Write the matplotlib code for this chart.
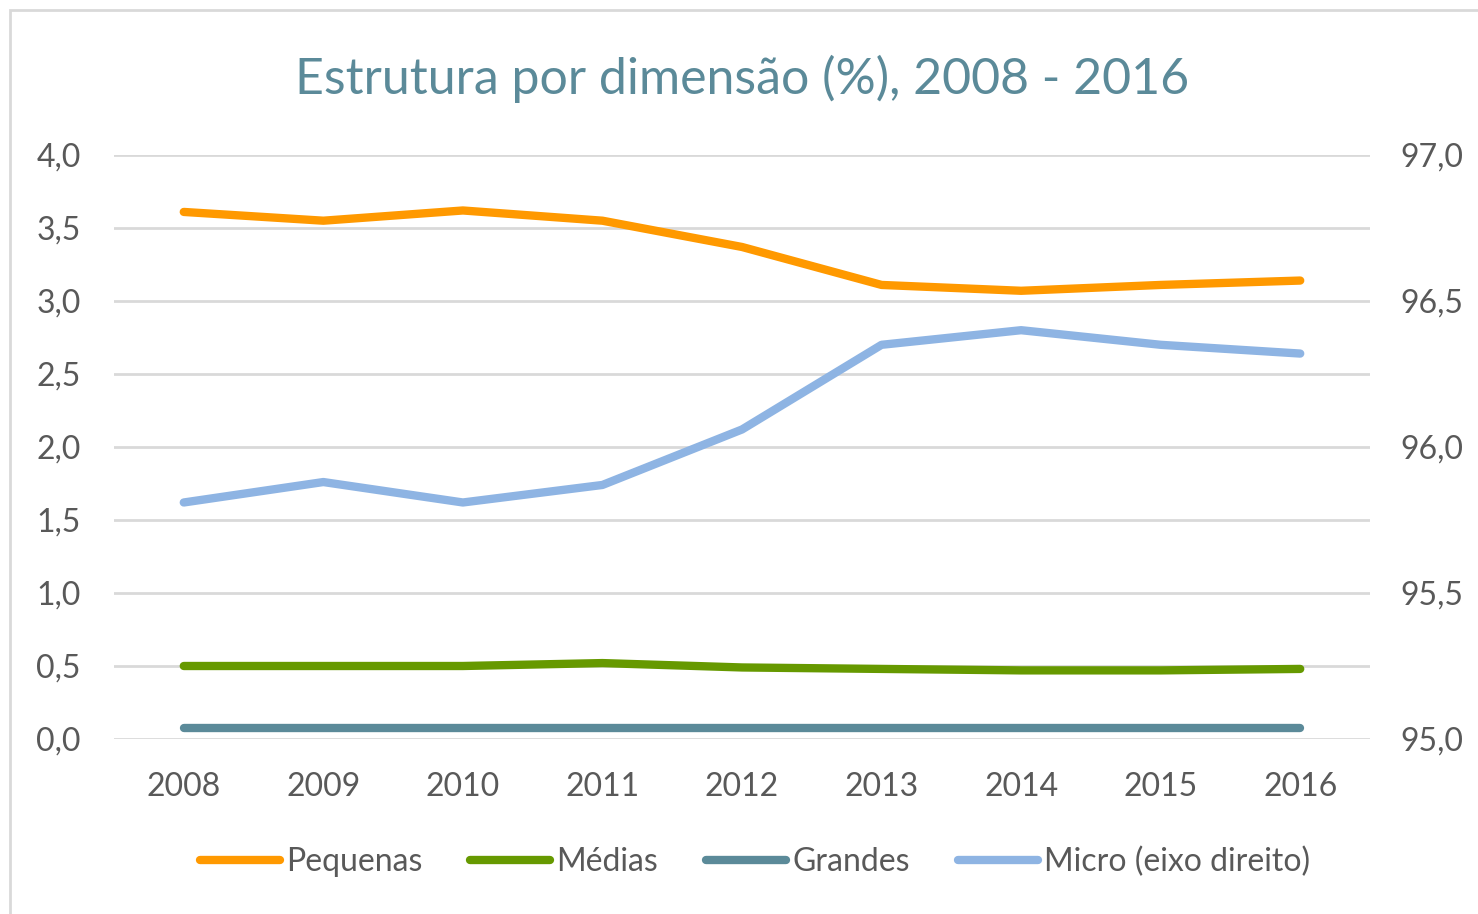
import matplotlib
matplotlib.use("Agg")
import matplotlib.pyplot as plt
from matplotlib.patches import Rectangle

years = ['2008', '2009', '2010', '2011', '2012', '2013', '2014', '2015', '2016']
pequenas = [3.61, 3.55, 3.62, 3.55, 3.37, 3.11, 3.07, 3.11, 3.14]
medias = [0.50, 0.50, 0.50, 0.52, 0.49, 0.48, 0.47, 0.47, 0.48]
grandes = [0.075, 0.075, 0.075, 0.075, 0.075, 0.075, 0.075, 0.075, 0.075]
micro = [95.81, 95.88, 95.81, 95.87, 96.06, 96.35, 96.40, 96.35, 96.32]

left_ticks = [0, 0.5, 1, 1.5, 2, 2.5, 3, 3.5, 4]
right_ticks = [95, 95.5, 96, 96.5, 97]

plt.rcParams['font.family'] = ['Lato', 'DejaVu Sans']

W, H = 1478, 914
fig = plt.figure(figsize=(W / 100, H / 100), dpi=100)
fig.patches.append(Rectangle((10 / W, -0.1), 1.2, 1 - 10 / H + 0.1, transform=fig.transFigure,
                             fill=False, edgecolor='#d9d9d9', linewidth=2))

ax = fig.add_axes([114 / W, 1 - 739 / H, (1370 - 114) / W, (739 - 155) / H])
ax2 = ax.twinx()

x = list(range(len(years)))
lw = 6
ax.plot(x, pequenas, color='#ff9900', lw=lw, solid_capstyle='round', label='Pequenas', zorder=3)
ax.plot(x, medias, color='#669900', lw=lw, solid_capstyle='round', label='Médias', zorder=3)
ax.plot(x, grandes, color='#5b8a99', lw=lw, solid_capstyle='round', label='Grandes', zorder=3)
ax2.plot(x, micro, color='#8eb4e3', lw=lw, solid_capstyle='round', label='Micro (eixo direito)', zorder=3)

ax.set_xlim(-0.5, len(years) - 0.5)
ax.set_ylim(0, 4)
ax2.set_ylim(95, 97)
ax.set_yticks(left_ticks)
ax.set_yticklabels([f'{v:.1f}'.replace('.', ',') for v in left_ticks])
ax2.set_yticks(right_ticks)
ax2.set_yticklabels([f'{v:.1f}'.replace('.', ',') for v in right_ticks])
ax.set_xticks(x)
ax.set_xticklabels(years)

ax.grid(axis='y', color='#d9d9d9', lw=2)
ax.set_axisbelow(True)
for a in (ax, ax2):
    for s in a.spines.values():
        s.set_visible(False)
    a.tick_params(length=0, labelsize=23, colors='#595959')
ax.tick_params(axis='y', pad=24)
ax2.tick_params(axis='y', pad=22)
ax.tick_params(axis='x', pad=24)

ax.set_title('Estrutura por dimensão (%), 2008 - 2016', fontsize=36, color='#5b8a99', pad=44)

h1, l1 = ax.get_legend_handles_labels()
h2, l2 = ax2.get_legend_handles_labels()
fig.legend(h1 + h2, l1 + l2, loc='center', bbox_to_anchor=(755 / W, 1 - 862 / H), ncol=4,
           frameon=False, fontsize=23, labelcolor='#595959', handlelength=2.5,
           handletextpad=0.2, columnspacing=1.5)

fig.savefig('out.png', dpi=100)
